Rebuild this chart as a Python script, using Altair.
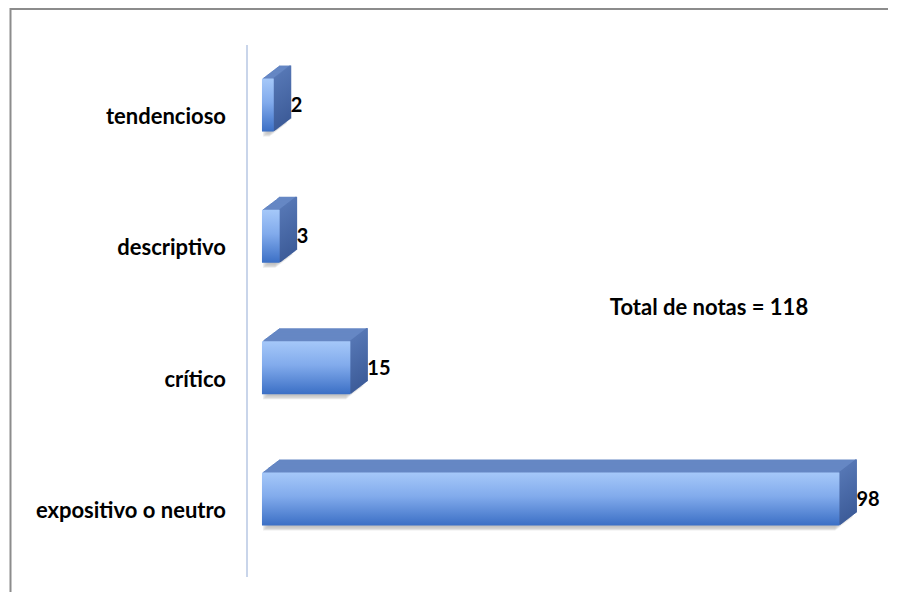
import altair as alt
import pandas as pd

categories = ["tendencioso", "descriptivo", "crítico", "expositivo o neutro"]
values = [2, 3, 15, 98]
total_label = ["Total de notas = 118"]

df = pd.DataFrame({"cat": categories, "val": values})
df["val2"] = df["val"]

FONT = "Lato"
DX, DY, N = 17, 13, 17

xs = alt.Scale(domain=[-43.1, 107.6], range=[0, 888], zero=False, nice=False)
ys = alt.Scale(domain=categories, range=[31.4, 556.6], paddingInner=0.5963, paddingOuter=0.298)

base = alt.Chart(df)
one = alt.Chart(pd.DataFrame({"a": [0]}))
layers = []

# frame (top and left edges only; the rest lies outside the picture)
layers.append(one.mark_rule(color="#8c8c8c", strokeWidth=2).encode(
    x=alt.value(2), x2=alt.value(888), y=alt.value(1)))
layers.append(one.mark_rule(color="#8c8c8c", strokeWidth=2).encode(
    x=alt.value(2.5), y=alt.value(0), y2=alt.value(600)))

# vertical axis line
layers.append(one.mark_rule(color="#c9d5ea", strokeWidth=2).encode(
    x=alt.value(239), y=alt.value(37), y2=alt.value(569)))

# grey shadow at the left edge
for k in range(0, N + 1):
    layers.append(
        base.mark_bar(color="#b9b9b9", opacity=0.25, xOffset=k - 4, x2Offset=k + 1,
                      yOffset=-k * DY / N + 5).encode(
            x=alt.X("val:Q", scale=xs, axis=None),
            x2=alt.datum(0),
            y=alt.Y("cat:N", scale=ys, axis=None, sort=categories),
        )
    )

# top face: stacked offset copies
for k in range(N, 0, -1):
    layers.append(
        base.mark_bar(color="#6687c4", xOffset=k, x2Offset=k, yOffset=-k * DY / N).encode(
            x=alt.X("val:Q", scale=xs, axis=None),
            x2=alt.datum(0),
            y=alt.Y("cat:N", scale=ys, axis=None, sort=categories),
        )
    )

# side face
for k in range(N, 0, -1):
    layers.append(
        base.mark_bar(color=alt.Gradient(gradient="linear",
                                         stops=[alt.GradientStop(color="#5576b4", offset=0),
                                                alt.GradientStop(color="#3d5c99", offset=1)],
                                         x1=0, x2=0, y1=0, y2=1),
                      xOffset=k - 1.5, x2Offset=k + 0.5, yOffset=-k * DY / N).encode(
            x=alt.X("val:Q", scale=xs, axis=None),
            x2=alt.X2("val2:Q"),
            y=alt.Y("cat:N", scale=ys, axis=None, sort=categories),
        )
    )

# front face
layers.append(
    base.mark_bar(color=alt.Gradient(gradient="linear",
                                     stops=[alt.GradientStop(color="#a5c8f9", offset=0),
                                            alt.GradientStop(color="#82abec", offset=0.45),
                                            alt.GradientStop(color="#3b6fc5", offset=1)],
                                     x1=0, x2=0, y1=0, y2=1)).encode(
        x=alt.X("val:Q", scale=xs, axis=None),
        x2=alt.datum(0),
        y=alt.Y("cat:N", scale=ys, axis=None, sort=categories),
    )
)

# white strip over the right edge of the drawing area
layers.append(one.mark_rect(color="white").encode(
    x=alt.value(874), x2=alt.value(900), y=alt.value(3), y2=alt.value(600)))

# category labels
layers.append(
    base.mark_text(align="right", baseline="middle", font=FONT, fontWeight="bold",
                   fontSize=22, color="black", dy=12).encode(
        x=alt.value(218),
        y=alt.Y("cat:N", scale=ys, axis=None, sort=categories),
        text="cat:N",
    )
)
# value labels
layers.append(
    base.mark_text(align="left", baseline="middle", font=FONT, fontWeight="bold",
                   fontSize=20, color="black", dx=17, dy=1).encode(
        x=alt.X("val:Q", scale=xs, axis=None),
        y=alt.Y("cat:N", scale=ys, axis=None, sort=categories),
        text="val:Q",
    )
)
# total annotation
layers.append(
    alt.Chart(pd.DataFrame({"t": total_label})).mark_text(
        align="center", baseline="middle", font=FONT, fontWeight="bold", fontSize=22, color="black"
    ).encode(x=alt.value(701), y=alt.value(300), text="t:N")
)

chart = alt.layer(*layers).properties(
    width=880, height=584, autosize=alt.AutoSizeParams(type="none"), padding=0
).configure_view(strokeOpacity=0, strokeWidth=0)

chart.save("out.html", embed_options={"renderer": "svg", "actions": False})
